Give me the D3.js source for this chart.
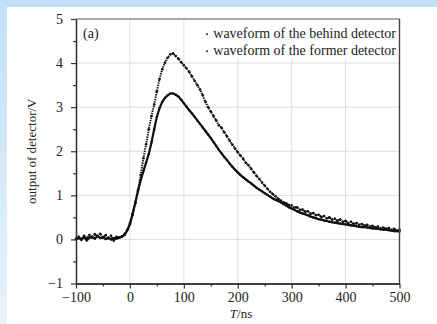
<!DOCTYPE html>
<html>
<head>
<meta charset="utf-8">
<script src="https://cdn.jsdelivr.net/npm/d3@7"></script>
<style>
  body { margin: 0; background: #fff; }
  text { font-family: "Liberation Serif", "Times New Roman", serif; fill: #222; }
</style>
</head>
<body>
<svg id="chart" width="437" height="324"></svg>
<script>
// sample times (ns)
const times = [
  -100, -95, -90, -85, -80, -75, -70, -65, -60, -55, -50, -45, -40, -35, -30, -25, -20, -15,
  -10, -5, 0, 5, 10, 15, 20, 25, 30, 35, 40, 45, 50, 55, 60, 65, 70, 75, 80, 85, 90, 95,
  100, 105, 110, 115, 120, 125, 130, 135, 140, 145, 150, 155, 160, 165, 170, 175, 180, 185, 190, 195,
  200, 205, 210, 215, 220, 225, 230, 235, 240, 245, 250, 255, 260, 265, 270, 275, 280, 285, 290, 295,
  300, 305, 310, 315, 320, 325, 330, 335, 340, 345, 350, 355, 360, 365, 370, 375, 380, 385, 390, 395,
  400, 405, 410, 415, 420, 425, 430, 435, 440, 445, 450, 455, 460, 465, 470, 475, 480, 485, 490, 495, 500
];

// waveform of the behind detector (V)
const behind = [
  0.02, 0.06, -0.01, 0.08, 0.03, 0.10, 0.04, 0.12, 0.07, 0.13, 0.05, 0.10, 0.02, 0.08, -0.03, 0.06, 0.04, 0.07,
  0.12, 0.22, 0.36, 0.56, 0.82, 1.12, 1.46, 1.84, 2.16, 2.50, 2.80, 3.06, 3.36, 3.64, 3.86, 4.01, 4.12, 4.20, 4.22, 4.16, 4.10, 4.02,
  3.95, 3.88, 3.80, 3.70, 3.60, 3.50, 3.40, 3.27, 3.12, 3.00, 2.90, 2.80, 2.70, 2.59, 2.53, 2.43, 2.34, 2.24, 2.15, 2.06,
  1.98, 1.90, 1.83, 1.74, 1.68, 1.60, 1.52, 1.44, 1.37, 1.29, 1.22, 1.15, 1.08, 1.03, 0.98, 0.92, 0.88, 0.84, 0.82, 0.78,
  0.77, 0.72, 0.73, 0.67, 0.68, 0.63, 0.64, 0.58, 0.60, 0.55, 0.56, 0.51, 0.53, 0.48, 0.50, 0.45, 0.47, 0.42, 0.45, 0.40,
  0.42, 0.37, 0.40, 0.35, 0.37, 0.33, 0.35, 0.31, 0.33, 0.29, 0.31, 0.27, 0.29, 0.25, 0.27, 0.24, 0.26, 0.22, 0.24, 0.20, 0.22
];

// waveform of the former detector (V)
const former = [
  0.00, 0.03, 0.01, 0.05, -0.02, 0.04, 0.06, 0.02, 0.08, 0.03, 0.05, 0.01, 0.04, 0.00, 0.03, 0.02, 0.04, 0.06,
  0.10, 0.20, 0.34, 0.58, 0.84, 1.10, 1.34, 1.55, 1.74, 1.94, 2.20, 2.50, 2.78, 2.98, 3.12, 3.21, 3.27, 3.31, 3.31, 3.28, 3.24, 3.17,
  3.09, 3.01, 2.93, 2.86, 2.78, 2.70, 2.62, 2.54, 2.46, 2.38, 2.30, 2.21, 2.12, 2.03, 1.95, 1.87, 1.80, 1.72, 1.65, 1.58,
  1.52, 1.46, 1.41, 1.36, 1.31, 1.27, 1.22, 1.17, 1.13, 1.09, 1.05, 1.01, 0.97, 0.93, 0.90, 0.87, 0.84, 0.80, 0.77, 0.73,
  0.70, 0.67, 0.64, 0.61, 0.59, 0.57, 0.55, 0.52, 0.50, 0.48, 0.46, 0.45, 0.43, 0.42, 0.40, 0.39, 0.38, 0.37, 0.36, 0.35,
  0.34, 0.33, 0.32, 0.31, 0.30, 0.29, 0.28, 0.28, 0.27, 0.26, 0.25, 0.25, 0.24, 0.23, 0.22, 0.22, 0.21, 0.20, 0.19, 0.19, 0.18
];

const xTicks = [-100, 0, 100, 200, 300, 400, 500];
const xMinor = [-50, 50, 150, 250, 350, 450];
const yTicks = [-1, 0, 1, 2, 3, 4, 5];
const yMinor = [-0.5, 0.5, 1.5, 2.5, 3.5, 4.5];
const legendLabels = ["waveform of the behind detector", "waveform of the former detector"];

const svg = d3.select("#chart");

// light blue page edges
const defs = svg.append("defs");
const grad = defs.append("linearGradient").attr("id", "edge").attr("x1", 0).attr("y1", 0).attr("x2", 0).attr("y2", 1);
grad.append("stop").attr("offset", "0%").attr("stop-color", "#c0e0f7");
grad.append("stop").attr("offset", "100%").attr("stop-color", "#e8f3fc");
svg.append("rect").attr("x", 0).attr("y", 0).attr("width", 437).attr("height", 7).attr("fill", "#c0e0f7");
svg.append("rect").attr("x", 0).attr("y", 0).attr("width", 7).attr("height", 324).attr("fill", "url(#edge)");

const x = d3.scaleLinear().domain([-100, 500]).range([76, 399.5]);
const y = d3.scaleLinear().domain([-1, 5]).range([283.5, 19]);

// grid
const grid = svg.append("g").attr("stroke", "#dedede").attr("stroke-width", 1);
grid.selectAll(".gx").data(xTicks.slice(1, -1)).join("line")
  .attr("x1", d => x(d)).attr("x2", d => x(d)).attr("y1", y(-1)).attr("y2", y(5));
grid.selectAll(".gy").data(yTicks.slice(1, -1)).join("line")
  .attr("y1", d => y(d)).attr("y2", d => y(d)).attr("x1", x(-100)).attr("x2", x(500));

// legend background hides grid beneath it
svg.append("rect").attr("x", 198).attr("y", y(5)).attr("width", x(500) - 198).attr("height", 40).attr("fill", "#fff");

// series
const pts = (vals) => times.map((t, i) => [t, vals[i]]);
const line = d3.line().x(d => x(d[0])).y(d => y(d[1])).curve(d3.curveLinear);

svg.append("path").datum(pts(former))
  .attr("fill", "none").attr("stroke", "#111").attr("stroke-width", 2.2).attr("d", line);
svg.append("g").selectAll("circle").data(pts(former)).join("circle")
  .attr("cx", d => x(d[0])).attr("cy", d => y(d[1])).attr("r", 1.2).attr("fill", "#111");

svg.append("path").datum(pts(behind))
  .attr("fill", "none").attr("stroke", "#111").attr("stroke-width", 2)
  .attr("stroke-dasharray", "1.4,1").attr("d", line);
svg.append("g").selectAll("circle").data(pts(behind)).join("circle")
  .attr("cx", d => x(d[0])).attr("cy", d => y(d[1])).attr("r", 1.3).attr("fill", "#111");

// axes
const fmt = d => d < 0 ? "\u2212" + Math.abs(d) : String(d);
const xAxis = svg.append("g").attr("transform", `translate(0,${y(-1)})`)
  .call(d3.axisBottom(x).tickValues(xTicks).tickSize(5).tickSizeOuter(0).tickPadding(4).tickFormat(fmt));
const xMin = svg.append("g").attr("transform", `translate(0,${y(-1)})`)
  .call(d3.axisBottom(x).tickValues(xMinor).tickSize(3).tickSizeOuter(0).tickFormat(""));
const yAxis = svg.append("g").attr("transform", `translate(${x(-100)},0)`)
  .call(d3.axisLeft(y).tickValues(yTicks).tickSize(5).tickSizeOuter(0).tickPadding(8).tickFormat(fmt));
const yMin = svg.append("g").attr("transform", `translate(${x(-100)},0)`)
  .call(d3.axisLeft(y).tickValues(yMinor).tickSize(3).tickSizeOuter(0).tickFormat(""));

[xAxis, xMin, yAxis, yMin].forEach(g => {
  g.select(".domain").attr("stroke", "#333").attr("stroke-width", 1.3);
  g.selectAll(".tick line").attr("stroke", "#333").attr("stroke-width", 1.2);
  g.selectAll(".tick text").attr("font-family", "Liberation Serif").attr("font-size", 14).attr("fill", "#222");
});

// top and right frame
svg.append("line").attr("x1", x(-100)).attr("x2", x(500)).attr("y1", y(5)).attr("y2", y(5))
  .attr("stroke", "#555").attr("stroke-width", 1.2);
svg.append("line").attr("x1", x(500)).attr("x2", x(500)).attr("y1", y(5)).attr("y2", y(-1))
  .attr("stroke", "#444").attr("stroke-width", 1.4);

// labels
svg.append("text").attr("x", 83).attr("y", 38).attr("font-size", 14).text("(a)");

svg.append("text").attr("transform", `translate(36,${(y(5) + y(-1)) / 2}) rotate(-90)`)
  .attr("text-anchor", "middle").attr("font-size", 13).text("output of detector/V");

const xl = svg.append("text").attr("x", 241).attr("y", 318).attr("text-anchor", "middle").attr("font-size", 13);
xl.append("tspan").attr("font-style", "italic").text("T");
xl.append("tspan").text("/ns");

// legend
const lg = svg.append("g").selectAll("g").data(legendLabels).join("g")
  .attr("transform", (d, i) => `translate(396,${38 + i * 17})`);
lg.append("text").attr("text-anchor", "end").attr("font-size", 14).text(d => d);
lg.append("rect").attr("x", -190).attr("y", -4.5).attr("width", 2).attr("height", 1.3).attr("fill", "#111");
</script>
</body>
</html>
